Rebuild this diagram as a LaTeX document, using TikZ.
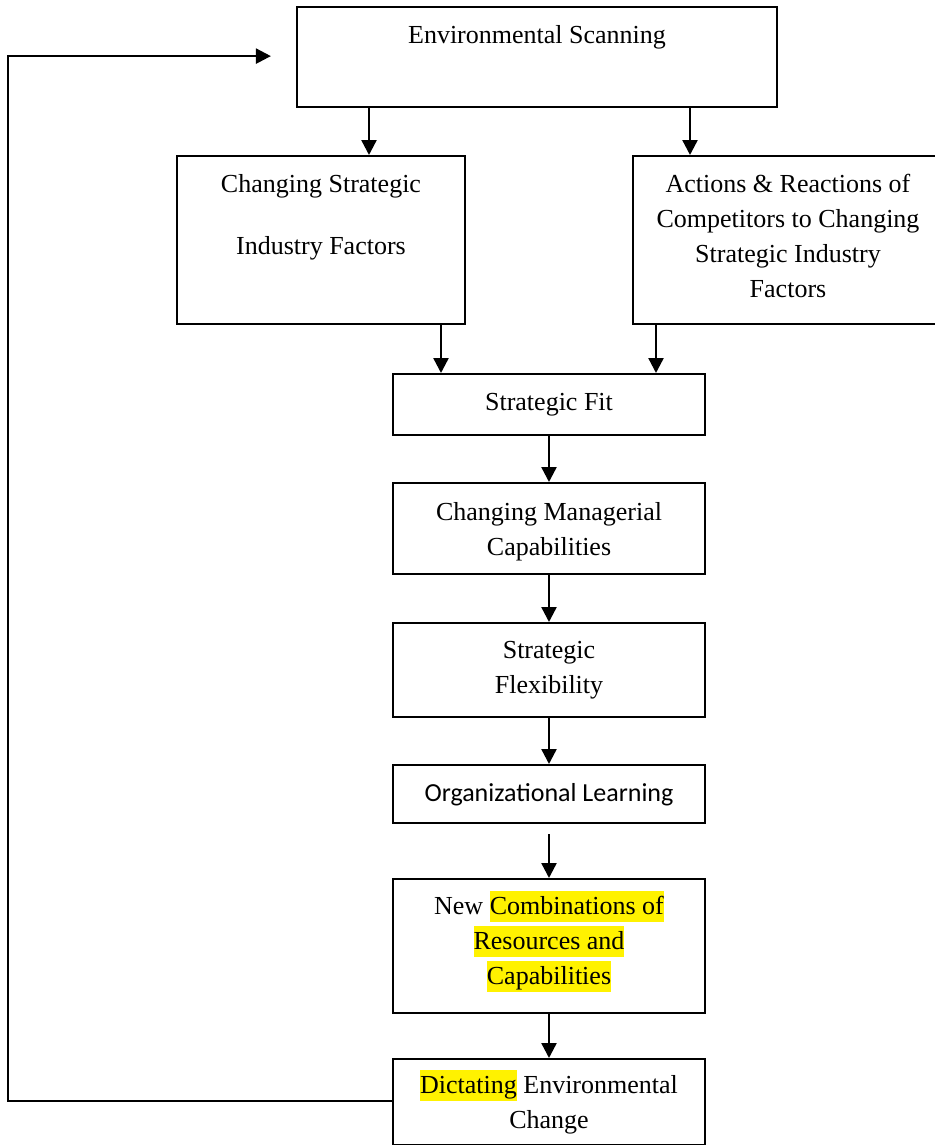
\documentclass[tikz,border=0pt]{standalone}
\usepackage{fontspec}
\setmainfont{Liberation Serif}
\newfontfamily\calibrifont{Carlito}
\usepackage{xcolor}
\usetikzlibrary{arrows.meta}
\newcommand{\hlite}[1]{{\setlength{\fboxsep}{0pt}\colorbox{yellow}{\rule[-4pt]{0pt}{15.5pt}#1}}}

\begin{document}
\begin{tikzpicture}[x=0.5pt,y=-0.5pt,
  box/.style={draw,line width=1.1pt,inner sep=0pt,anchor=north,align=center,
    font=\fontsize{13}{17.5}\selectfont},
  arr/.style={line width=1.2pt,-{Triangle[width=7.5pt,length=7.5pt]}}]
\clip (0,0) rectangle (935,1145);
% boxes
\node[box,minimum width=240pt,text height=18pt,text depth=32pt] (scan) at (537,6) {Environmental Scanning};
\node[box,minimum width=144pt,text height=49pt,text depth=35pt] (industry) at (321,155) {Changing Strategic\\[13.5pt]Industry Factors};
\node[box,minimum width=155pt,text height=70.5pt,text depth=13.5pt] (actions) at (788,155) {Actions \& Reactions of\\Competitors to Changing\\Strategic Industry\\Factors};
\node[box,minimum width=156pt,text height=18pt,text depth=12.5pt] (fit) at (549,373) {Strategic Fit};
\node[box,minimum width=156pt,text height=36pt,text depth=9.5pt] (managerial) at (549,482) {Changing Managerial\\Capabilities};
\node[box,minimum width=156pt,text height=35pt,text depth=12pt] (flexibility) at (549,622) {Strategic\\Flexibility};
\node[box,minimum width=156pt,text height=18pt,text depth=11pt,font=\calibrifont\fontsize{13}{17.5}\selectfont] (learning) at (549,764) {Organizational Learning};
\node[box,minimum width=156pt,text height=52.5pt,text depth=14.5pt] (combos) at (549,878) {New \hlite{Combinations of}\\\hlite{Resources and}\\\hlite{Capabilities}};
\node[box,minimum width=156pt,text height=34.5pt,text depth=8.5pt] (dictating) at (549,1058) {\hlite{Dictating} Environmental\\Change};
% arrows
\draw[arr] ([xshift=-84pt]scan.south) -- ([xshift=-84pt]scan.south |- industry.north);
\draw[arr] ([xshift=76.5pt]scan.south) -- ([xshift=76.5pt]scan.south |- actions.north);
\draw[arr] ([xshift=60pt]industry.south) -- ([xshift=60pt]industry.south |- fit.north);
\draw[arr] ([xshift=-66pt]actions.south) -- ([xshift=-66pt]actions.south |- fit.north);
\draw[arr] (fit.south) -- (managerial.north);
\draw[arr] (managerial.south) -- (flexibility.north);
\draw[arr] (flexibility.south) -- (learning.north);
\draw[arr] ([yshift=-5pt]learning.south) -- (combos.north);
\draw[arr] (combos.south) -- (dictating.north);
% feedback loop
\draw[arr] ([yshift=0.5pt]dictating.west) -- ++(-192pt,0) |- ([xshift=-12.5pt,yshift=0.5pt]scan.west);
\end{tikzpicture}
\end{document}
